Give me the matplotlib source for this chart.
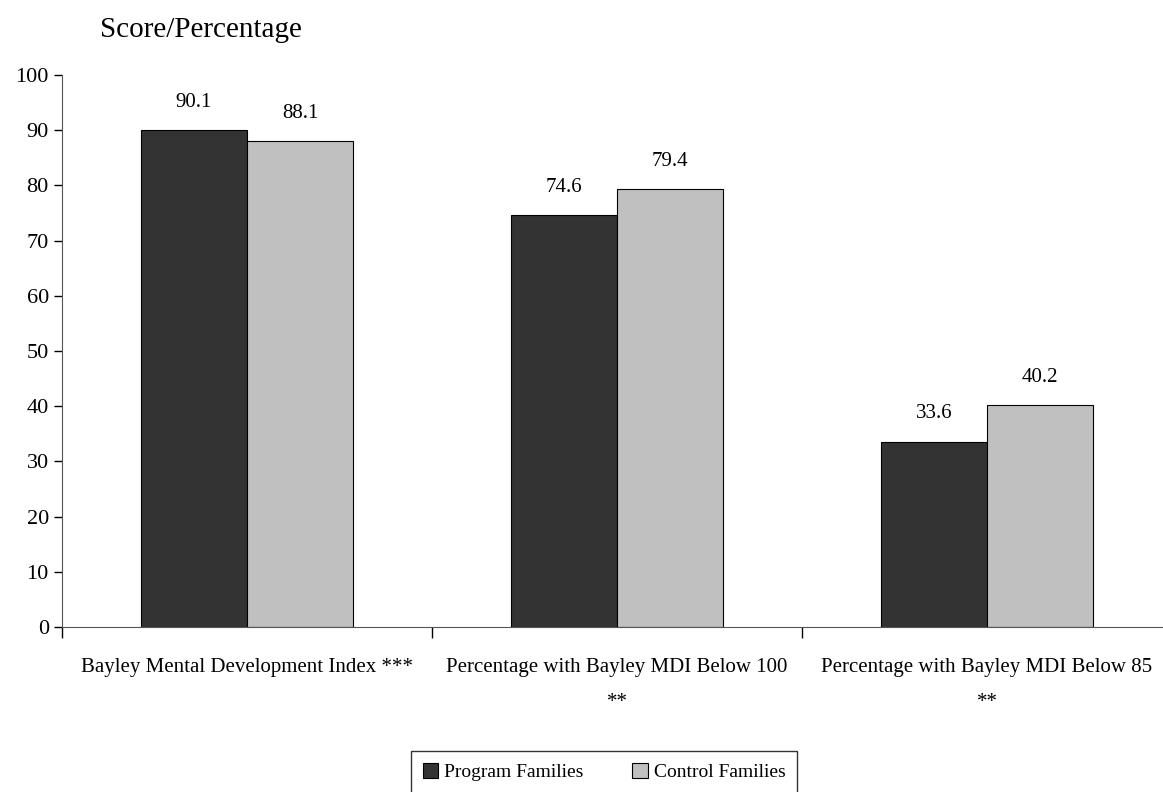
import numpy as np
from matplotlib import pyplot as plt

plt.rcParams['font.family'] = ['Liberation Serif', 'DejaVu Serif']

categories = ['Bayley Mental Development Index ***',
              'Percentage with Bayley MDI Below 100\n**',
              'Percentage with Bayley MDI Below 85\n**']
program = [90.1, 74.6, 33.6]
control = [88.1, 79.4, 40.2]
series_names = ['Program Families', 'Control Families']

W, H = 1163, 792
fig = plt.figure(figsize=(W / 100, H / 100), dpi=100)
ax = fig.add_axes([62 / W, (H - 627) / H, 1110 / W, 552 / H])

x = np.arange(len(categories))
bw = 0.287
b1 = ax.bar(x - bw / 2, program, bw, color='#333333', edgecolor='black', linewidth=0.8, label=series_names[0])
b2 = ax.bar(x + bw / 2, control, bw, color='#c0c0c0', edgecolor='black', linewidth=0.8, label=series_names[1])

for bars in (b1, b2):
    for r in bars:
        ax.annotate(f'{r.get_height():.1f}', xy=(r.get_x() + r.get_width() / 2, r.get_height()),
                    xytext=(0, 13), textcoords='offset points', ha='center', va='bottom', fontsize=15)

ax.set_xlim(-0.5, 2.5)
ax.set_ylim(0, 100)
ax.set_yticks(range(0, 101, 10))
ax.set_xticks([-0.5, 0.5, 1.5, 2.5])
ax.set_xticklabels([])
ax.set_xticks(x, minor=True)
ax.set_xticklabels(categories, minor=True, fontsize=15)
ax.tick_params(axis='x', which='minor', length=0, pad=22)
ax.tick_params(axis='x', which='major', length=8, direction='out', width=1)
ax.tick_params(axis='y', labelsize=16, length=6, width=1)
for lbl in ax.get_xticklabels(minor=True):
    lbl.set_linespacing(2.2)

for s in ('top', 'right'):
    ax.spines[s].set_visible(False)
for s in ('left', 'bottom'):
    ax.spines[s].set_color('#555555')

fig.text(100 / W, 1 - 30 / H, 'Score/Percentage', fontsize=21, va='center', ha='left')

leg = fig.legend(loc='center', bbox_to_anchor=(604 / W, 1 - 772 / H), ncol=2, fontsize=14,
                 frameon=True, fancybox=False, edgecolor='black', handlelength=0.8,
                 handleheight=0.8, handletextpad=0.3, columnspacing=2.5, borderpad=0.6)
leg.get_frame().set_linewidth(1)

fig.savefig('out.png', dpi=100)
